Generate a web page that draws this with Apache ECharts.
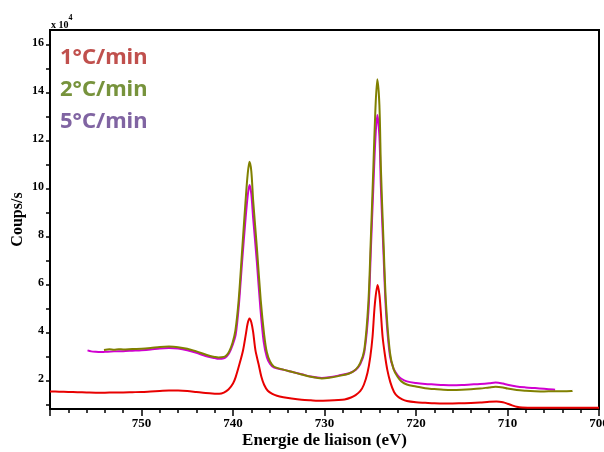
<!DOCTYPE html>
<html>
<head>
<meta charset="utf-8">
<script src="https://cdn.jsdelivr.net/npm/echarts@6/dist/echarts.min.js"></script>
<style>html,body{margin:0;padding:0;background:#fff}#c{width:604px;height:452px}</style>
</head>
<body>
<div id="c"></div>
<script>
// ---- data (binding energy eV, counts/s x 1e4) ----
const seriesNames = ['1°C/min', '2°C/min', '5°C/min'];

const energy1 = [760,759,758,757,756,755,754,753,752,751,750,749,748,747,746,745,744,743,742,741.5,741,740.5,740,739.7,739.3,738.9,738.6,738.4,738.2,738.0,737.8,737.55,737.2,736.9,736.6,736.2,735.7,735.2,734.5,733.6,732.5,731.5,730.7,729.5,728.5,727.8,727.1,726.6,726.1,725.7,725.3,725.0,724.75,724.5,724.2,724.0,723.85,723.65,723.4,723.13,722.8,722.4,722.0,721.5,721,720,719,718,717,716,715,714,713,712,711.2,710.5,710,709.5,709,708.4,707,705,703,701,700];
const counts1 = [1.57,1.56,1.55,1.54,1.53,1.52,1.52,1.53,1.53,1.54,1.55,1.57,1.59,1.61,1.61,1.59,1.55,1.51,1.48,1.47,1.52,1.65,1.9,2.18,2.7,3.29,3.95,4.4,4.61,4.45,4.05,3.29,2.7,2.18,1.85,1.6,1.47,1.39,1.33,1.28,1.23,1.20,1.18,1.19,1.21,1.24,1.32,1.42,1.58,1.85,2.35,3.0,3.85,5.2,6.0,5.6,4.9,3.85,3.1,2.46,1.95,1.55,1.36,1.24,1.17,1.12,1.10,1.08,1.07,1.07,1.08,1.09,1.11,1.14,1.15,1.12,1.06,0.99,0.93,0.90,0.89,0.89,0.89,0.89,0.89];

const energy2 = [754.1,753.5,753,752.5,752,751,750,749,748,747,746.5,746,745,744,743,742.5,742,741.6,741,740.7,740.4,740.05,739.74,739.38,739.0,738.62,738.4,738.2,738.0,737.8,737.37,736.97,736.6,736.3,735.95,735.5,734.4,733.6,732.5,731.5,730.3,729.5,728.5,727.3,726.6,726.1,725.65,725.21,724.93,724.67,724.45,724.23,724.0,723.83,723.57,723.28,722.85,722.45,722,721.6,721,720,719,718,717,716,715,714,713,712,711.3,710.5,710,709,708,707,706,705,704,703,702.9];
const counts2 = [3.30,3.33,3.31,3.33,3.32,3.34,3.35,3.38,3.42,3.44,3.43,3.41,3.35,3.24,3.11,3.05,3.01,2.99,3.01,3.08,3.25,3.6,4.1,5.375,7.46,9.54,10.6,11.14,10.75,9.54,7.46,5.375,3.95,3.2,2.82,2.6,2.47,2.39,2.28,2.18,2.11,2.14,2.21,2.32,2.48,2.75,3.3,5.24,8.01,10.79,13.2,14.57,13.5,10.79,8.01,5.24,3.2,2.5,2.17,1.99,1.86,1.78,1.70,1.67,1.64,1.63,1.64,1.66,1.69,1.74,1.77,1.74,1.69,1.63,1.60,1.58,1.57,1.58,1.58,1.59,1.60];

const energy3 = [755.9,755.5,755,754.5,754,753,752,751,750,749,748,747,746,745,744,743,742,741.6,741,740.7,740.4,740.05,739.7,739.35,739.0,738.62,738.4,738.2,738.0,737.8,737.4,737.0,736.65,736.3,735.95,735.5,734.4,733.6,732.5,731.5,730.3,729.5,728.5,727.3,726.6,726.1,725.65,725.2,724.93,724.67,724.45,724.23,724.0,723.83,723.57,723.28,722.85,722.45,722,721.6,721,720,719,718,717,716,715,714,713,712,711.3,710.5,710,709,708,707,706,705,704.8];
const counts3 = [3.28,3.24,3.22,3.21,3.22,3.24,3.25,3.27,3.29,3.32,3.36,3.38,3.36,3.29,3.18,3.05,2.96,2.93,2.95,3.02,3.18,3.5,3.95,5.2,7.0,8.8,9.7,10.17,9.8,8.8,7.0,5.0,3.65,3.0,2.72,2.56,2.47,2.39,2.29,2.19,2.13,2.16,2.23,2.33,2.47,2.7,3.2,4.9,7.5,10.0,12.0,13.08,12.2,10.0,7.5,4.9,3.05,2.52,2.24,2.1,1.99,1.92,1.88,1.86,1.84,1.83,1.84,1.86,1.88,1.91,1.94,1.90,1.85,1.78,1.74,1.71,1.68,1.65,1.64];

const yTickValues = [1,2,3,4,5,6,7,8,9,10,11,12,13,14,15,16];
const yLabelValues = [2,4,6,8,10,12,14,16];
const xLabelValues = [750,740,730,720,710,700];

const zip = (xs, ys) => xs.map((x, i) => [x, ys[i]]);

const chart = echarts.init(document.getElementById('c'), null, {renderer: 'canvas'});
const serif = '"Liberation Serif", "DejaVu Serif", serif';
const sans = '"Noto Sans", "Open Sans", sans-serif';

const lineSeries = (name, data, color, z) => ({
  name, type: 'line', data, showSymbol: false, symbol: 'none',
  smooth: 0.3, z,
  lineStyle: {color, width: 2},
  itemStyle: {color}
});

chart.setOption({
  animation: false,
  backgroundColor: '#fff',
  grid: {left: 50, top: 30, right: 5, bottom: 43, outerBoundsMode: 'none', containLabel: false,
         show: true, borderColor: '#000', borderWidth: 2, backgroundColor: 'transparent'},
  xAxis: {
    type: 'value', inverse: true, min: 700, max: 760, interval: 10,
    name: 'Energie de liaison (eV)', nameLocation: 'middle', nameGap: 23, nameMoveOverlap: false,
    nameTextStyle: {fontFamily: serif, fontWeight: 'bold', fontSize: 17, color: '#000'},
    axisLine: {show: true, lineStyle: {color: '#000', width: 2}},
    axisTick: {show: true, inside: false, length: 7, lineStyle: {color: '#000', width: 1.5}},
    minorTick: {show: true, splitNumber: 5, length: 4, lineStyle: {color: '#000', width: 1.5}},
    axisLabel: {
      fontFamily: serif, fontWeight: 'bold', fontSize: 13, color: '#000', margin: 8,
      formatter: v => xLabelValues.includes(v) ? String(v) : ''
    },
    splitLine: {show: false},
    minorSplitLine: {show: false}
  },
  yAxis: {
    type: 'value', min: 0.84, max: 16.625,
    name: 'Coups/s', nameLocation: 'middle', nameGap: 24, nameMoveOverlap: false,
    nameTextStyle: {fontFamily: serif, fontWeight: 'bold', fontSize: 16, color: '#000'},
    axisLine: {show: true, lineStyle: {color: '#000', width: 2}},
    axisTick: {show: true, inside: false, length: 4, customValues: yTickValues, lineStyle: {color: '#000', width: 1.5}},
    axisLabel: {
      fontFamily: serif, fontWeight: 'bold', fontSize: 12, color: '#000', margin: 6,
      customValues: yLabelValues, verticalAlign: 'bottom', padding: [0,0,-4,0]
    },
    splitLine: {show: false}
  },
  series: [
    lineSeries(seriesNames[0], zip(energy1, counts1), '#e80000', 2),
    lineSeries(seriesNames[2], zip(energy3, counts3), '#d000d0', 3),
    lineSeries(seriesNames[1], zip(energy2, counts2), '#808000', 4)
  ],
  graphic: [
    {type: 'text', left: 51, top: 14, style: {
      text: '{a|x 10}{b|4}', rich: {
        a: {fontFamily: serif, fontWeight: 'bold', fontSize: 10, fill: '#000', verticalAlign: 'bottom', padding: [6,0,0,0]},
        b: {fontFamily: serif, fontWeight: 'bold', fontSize: 8, fill: '#000', verticalAlign: 'top'}
      }}},
    {type: 'text', left: 60, top: 47, style: {text: seriesNames[0], fontFamily: sans, fontWeight: 'bold', fontSize: 22, fill: '#c0504d'}},
    {type: 'text', left: 60, top: 79, style: {text: seriesNames[1], fontFamily: sans, fontWeight: 'bold', fontSize: 22, fill: '#77933c'}},
    {type: 'text', left: 60, top: 111, style: {text: seriesNames[2], fontFamily: sans, fontWeight: 'bold', fontSize: 22, fill: '#8064a2'}}
  ]
});
</script>
</body>
</html>
